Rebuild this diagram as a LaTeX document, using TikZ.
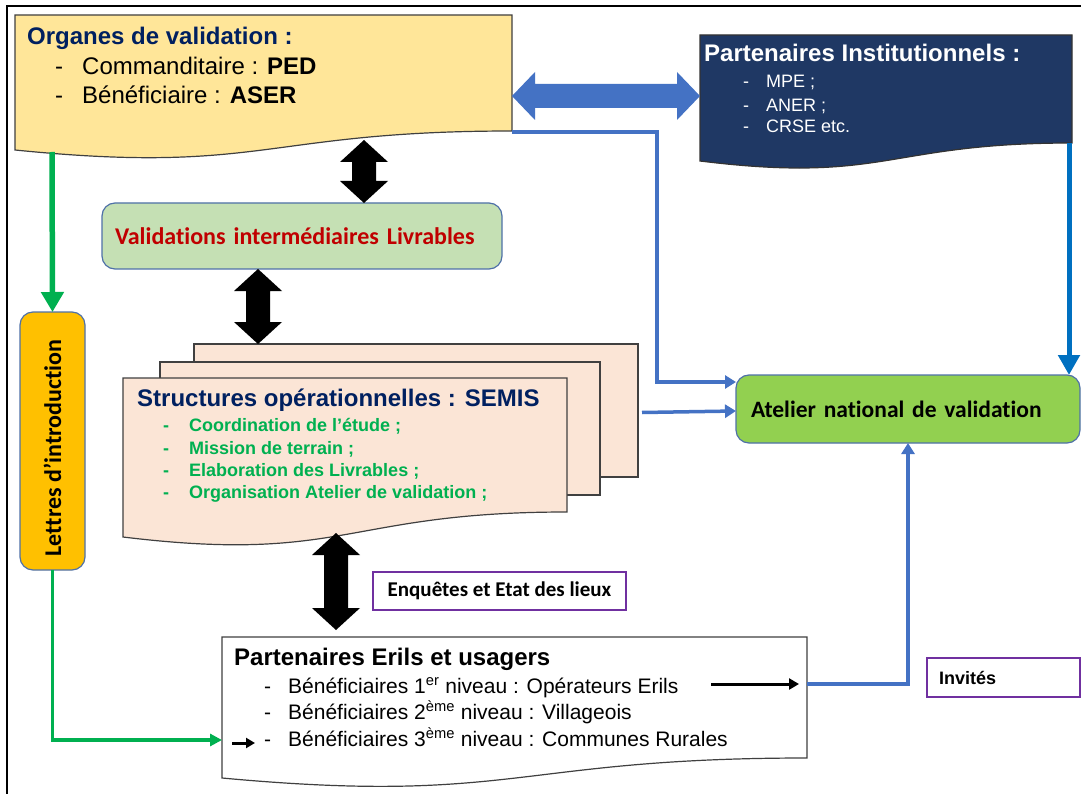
\documentclass[tikz,border=0pt]{standalone}
\usepackage{fontspec}
\setmainfont{Liberation Sans}
\newfontfamily\carlito[Ligatures=NoCommon]{Carlito}
\usetikzlibrary{arrows.meta,positioning,calc}

\definecolor{orgfill}{HTML}{FFE699}
\definecolor{navy}{HTML}{002060}
\definecolor{pifill}{HTML}{1F3864}
\definecolor{valfill}{HTML}{C5E0B4}
\definecolor{valred}{HTML}{C00000}
\definecolor{letfill}{HTML}{FFC000}
\definecolor{atlfill}{HTML}{92D050}
\definecolor{semfill}{HTML}{FBE5D6}
\definecolor{semgreen}{HTML}{00B050}
\definecolor{boxedge}{HTML}{4F71A8}
\definecolor{linkblue}{HTML}{4472C4}
\definecolor{deepblue}{HTML}{0070C0}
\definecolor{invpurple}{HTML}{7030A0}

% document outline with a wavy bottom, built on a rectangle node
\newcommand{\wavedoc}[4]{\filldraw[#1] (#2.north west) -- (#2.north east) -- (#2.south east)
  .. controls (#2.south) and ($(#2.south)+(0,#4)$) .. ($(#2.south west)+(0,#3)$) -- cycle;}
% block double arrows between two tips
\newcommand{\vblock}[3]{\fill[#1] (#2) -- ++(24,22) -- ++(-12,0) -- ($(#3)+(12,-22)$) -- ++(12,0) -- (#3)
  -- ++(-24,-22) -- ++(12,0) -- ($(#2)+(-12,22)$) -- ++(-12,0) -- cycle;}
\newcommand{\hblock}[3]{\fill[#1] (#2) -- ++(23,-24) -- ++(0,12) -- ($(#3)+(-23,-12)$) -- ++(0,-12) -- (#3)
  -- ++(-23,24) -- ++(0,-12) -- ($(#2)+(23,12)$) -- ++(0,12) -- cycle;}

\tikzset{
  docnode/.style={anchor=north west, inner sep=0pt, outer sep=0pt},
  docline/.style={draw=black!75, line width=1.2pt},
  roundbox/.style={docnode, draw=boxedge, line width=1.2pt, rounded corners=13pt},
  tagbox/.style={docnode, draw=invpurple, line width=2.5pt},
  txt/.style={anchor=base west, inner sep=0pt},
  big/.style={font=\fontsize{24}{28}\selectfont},
  bigb/.style={font=\bfseries\fontsize{24}{28}\selectfont},
  blueline/.style={draw=linkblue, line width=3.5pt, -{Triangle[width=13pt,length=11pt]}},
  bluethick/.style={draw=deepblue, line width=5pt, -{Triangle[width=21pt,length=20pt]}},
  greenthick/.style={draw=semgreen, line width=5.5pt, -{Triangle[width=22pt,length=20pt]}},
  greenline/.style={draw=semgreen, line width=3.5pt, -{Triangle[width=12pt,length=12pt]}},
  blackarrow/.style={draw=black, line width=3pt, -{Triangle[width=11pt,length=10pt]}}
}

\begin{document}
\begin{tikzpicture}[x=1pt,y=-1pt]
  \useasboundingbox (0,0) rectangle (1081,794);
  \fill[white] (0,0) rectangle (1081,794);
  % frame
  \draw[line width=2pt] (7,6) rectangle (1100,810);

  % Organes de validation
  \node[docnode, minimum width=497pt, minimum height=116pt] (org) at (15,15) {};
  \wavedoc{docline, fill=orgfill}{org}{19}{44}
  \node[txt, bigb, text=navy] (orgt) at (27,45) {Organes de validation :};
  \foreach \yy/\lbl [count=\i] in {75/{Commanditaire : \textbf{PED}}, 104/{Bénéficiaire : \textbf{ASER}}}{
    \node[txt, big] (orgd\i) at (55,\yy) {-};
    \node[txt, big] (orgi\i) at (82,\yy) {\lbl};
  }

  % Partenaires institutionnels
  \node[docnode, minimum width=372pt, minimum height=108pt] (pi) at (700,35) {};
  \wavedoc{draw=black!80, line width=1.2pt, fill=pifill}{pi}{18}{41}
  \node[txt, bigb, text=white] (pit) at (704,62) {Partenaires Institutionnels :};
  \foreach \yy/\lbl [count=\i] in {88/{MPE ;}, 112/{ANER ;}, 133/{CRSE etc.}}{
    \node[txt, text=white, font=\fontsize{18}{21}\selectfont] (pid\i) at (743,\yy) {-};
    \node[txt, text=white, font=\fontsize{18}{21}\selectfont] (pii\i) at (766,\yy) {\lbl};
  }

  % Validations intermediaires
  \node[roundbox, fill=valfill, minimum width=400pt, minimum height=66pt, text width=374pt,
    inner xsep=13pt, align=left, text=valred, font=\carlito\bfseries\fontsize{24}{28}\selectfont]
    (val) at (102,203) {Validations intermédiaires Livrables};

  % Lettres d'introduction
  \node[roundbox, fill=letfill, minimum width=65pt, minimum height=258pt] (let) at (20,312) {};
  \node[rotate=90, inner sep=0pt, font=\carlito\bfseries\fontsize{24}{28}\selectfont]
    (lett) at ($(let.center)+(0,7)$) {Lettres d’introduction};

  % Structures operationnelles
  \node[docnode, docline, fill=semfill, minimum width=444pt, minimum height=133pt] (semback) at (194,344) {};
  \node[docnode, docline, fill=semfill, minimum width=440pt, minimum height=133pt] (semmid) at (160,362) {};
  \node[docnode, minimum width=444pt, minimum height=134pt] (sem) at (123,378) {};
  \wavedoc{docline, fill=semfill}{sem}{25}{52}
  \node[txt, bigb, text=navy] (semt) at (137,406) {Structures opérationnelles : SEMIS};
  \foreach \yy/\lbl [count=\i] in {431/{Coordination de l’étude ;}, 454/{Mission de terrain ;},
      476/{Elaboration des Livrables ;}, 498/{Organisation Atelier de validation ;}}{
    \node[txt, text=semgreen, font=\bfseries\fontsize{18}{21}\selectfont] (semd\i) at (163,\yy) {-};
    \node[txt, text=semgreen, font=\bfseries\fontsize{18}{21}\selectfont] (semi\i) at (189,\yy) {\lbl};
  }

  % Atelier national
  \node[roundbox, fill=atlfill, minimum width=344pt, minimum height=68pt, text width=314pt,
    inner xsep=15pt, align=left, font=\carlito\bfseries\fontsize{23.5}{28}\selectfont]
    (atl) at (736,375) {Atelier national de validation};

  % Enquetes, Invites
  \node[tagbox, minimum width=253pt, minimum height=38pt, font=\carlito\bfseries\fontsize{21}{24}\selectfont]
    (enq) at (373,572) {Enquêtes et Etat des lieux};
  \node[tagbox, minimum width=153pt, minimum height=39pt, text width=129pt, inner xsep=12pt, align=left,
    font=\bfseries\fontsize{18}{21}\selectfont] (inv) at (927,658) {Invités};

  % Partenaires Erils et usagers
  \node[docnode, minimum width=585pt, minimum height=121pt] (eri) at (222,637) {};
  \wavedoc{docline, fill=white}{eri}{20}{47}
  \node[txt, bigb] (erit) at (234,665) {Partenaires Erils et usagers};
  \foreach \yy/\lbl [count=\i] in {693/{Bénéficiaires 1\textsuperscript{er} niveau : Opérateurs Erils},
      719/{Bénéficiaires 2\textsuperscript{ème} niveau : Villageois},
      746/{Bénéficiaires 3\textsuperscript{ème} niveau : Communes Rurales}}{
    \node[txt, font=\fontsize{21}{24}\selectfont] (erid\i) at (264,\yy) {-};
    \node[txt, font=\fontsize{21}{24}\selectfont] (erii\i) at (288,\yy) {\lbl};
  }

  % block arrows
  \coordinate (orgr) at ($(org.north east)+(0,81)$);
  \coordinate (pil) at ($(pi.north west)+(0,61)$);
  \hblock{linkblue}{orgr}{pil}
  \coordinate (a1t) at (364,140);
  \coordinate (a1b) at (a1t |- val.north);
  \vblock{black}{a1t}{a1b}
  \coordinate (a2t) at ($(val.south west)+(156,0)$);
  \coordinate (a2b) at (a2t |- semback.north);
  \vblock{black}{a2t}{a2b}
  \coordinate (a3t) at (336,533);
  \coordinate (a3b) at ($(a3t |- eri.north)+(0,-7)$);
  \vblock{black}{a3t}{a3b}

  % links to the workshop
  \coordinate (orgc) at ($(org.south east)+(0,1)$);
  \coordinate (atlin) at ($(atl.north west)+(0,7)$);
  \draw[blueline] (orgc) -| ($(atlin)+(-79,0)$) -- (atlin);
  \draw[blueline] ($(semback.east)+(4,2)$) -- ($(atl.west)+(0,2)$);
  \coordinate (pin) at ($(pi.south east)+(-3,0)$);
  \draw[bluethick] (pin) -- (pin |- atl.north);
  \coordinate (eriout) at ($(eri.north east)+(0,47)$);
  \draw[blackarrow] ($(eriout)+(-96,0)$) -- ($(eriout)+(-8,0)$);
  \draw[blueline] (eriout) -| (atl.south);

  % letters of introduction
  \coordinate (orgl) at ($(org.south west)+(37,21)$);
  \draw[greenthick] (orgl) -- (let.north);
  \coordinate (eriin) at ($(eri.south west)+(0,-18)$);
  \draw[greenline] (let.south) |- (eriin);
  \draw[blackarrow, -{Triangle[width=10pt,length=9pt]}] ($(eriin)+(10,3)$) -- ($(eriin)+(33,3)$);
\end{tikzpicture}
\end{document}
